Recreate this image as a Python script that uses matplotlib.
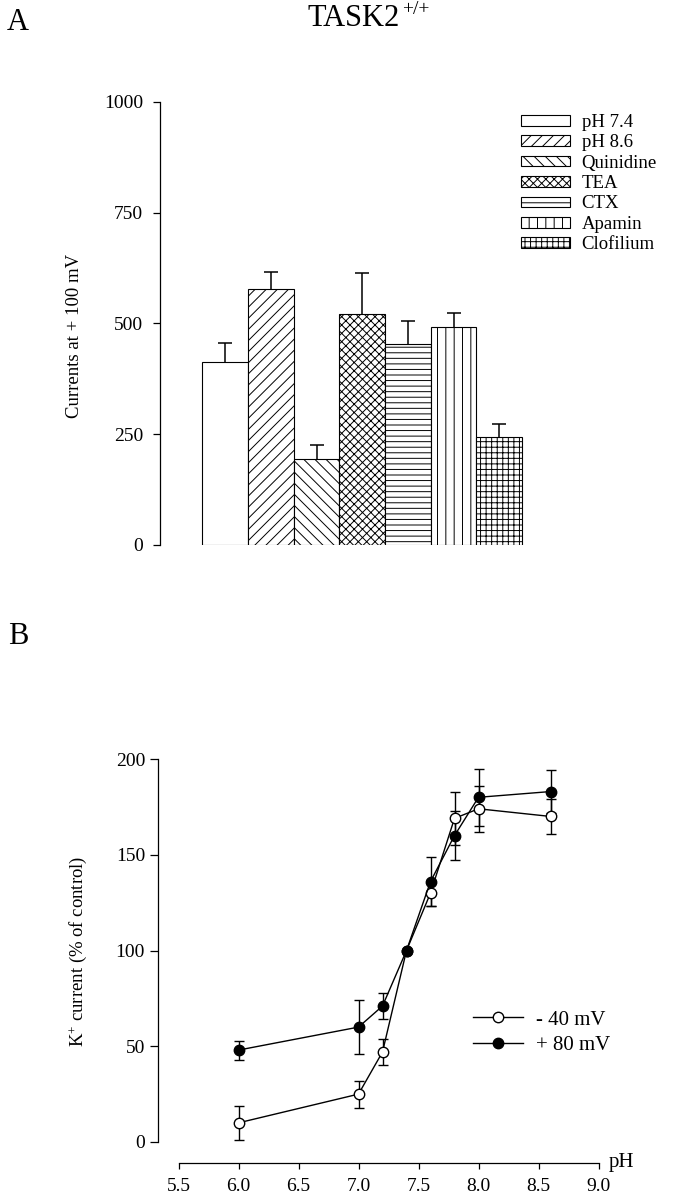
import matplotlib
matplotlib.use('Agg')
import matplotlib.pyplot as plt
import numpy as np

plt.rcParams['font.family'] = ['Liberation Serif', 'DejaVu Serif']
plt.rcParams['mathtext.fontset'] = 'custom'
plt.rcParams['mathtext.rm'] = 'Liberation Serif'
plt.rcParams['mathtext.default'] = 'regular'
plt.rcParams['hatch.linewidth'] = 0.7

# Panel A data: currents at +100 mV
conditions = ['pH 7.4', 'pH 8.6', 'Quinidine', 'TEA', 'CTX', 'Apamin', 'Clofilium']
currents = [414, 578, 195, 521, 453, 491, 244]
current_err = [42, 38, 31, 94, 53, 32, 29]
a_yticks = [0, 250, 500, 750, 1000]

# Panel B data: K+ current vs pH
ph = [6.0, 7.0, 7.2, 7.4, 7.6, 7.8, 8.0, 8.6]
neg40 = [10, 25, 47, 100, 130, 169, 174, 170]
neg40_err = [9, 7, 7, 0, 7, 14, 12, 9]
pos80 = [48, 60, 71, 100, 136, 160, 180, 183]
pos80_err = [5, 14, 7, 0, 13, 13, 15, 11]
b_xticks = [5.5, 6.0, 6.5, 7.0, 7.5, 8.0, 8.5, 9.0]
b_yticks = [0, 50, 100, 150, 200]

hatches = ['', '///', '\\\\\\', 'xxxx', '---', '||', '+++']

W, H = 674, 1200
fig = plt.figure(figsize=(W / 100, H / 100), dpi=100)

# ---- Panel A ----
axA = fig.add_axes([160 / W, 1 - 545 / H, 510 / W, 443 / H])
x = np.arange(len(conditions))
for i in range(len(conditions)):
    axA.bar(x[i], currents[i], width=1.0, color='white', edgecolor='black',
            linewidth=0.8, hatch=hatches[i], label=conditions[i])
eb = axA.errorbar(x, currents, yerr=[np.zeros(len(currents)), current_err], fmt='none',
                  ecolor='black', elinewidth=1.1, capsize=5, capthick=1.1)
eb[1][0].set_visible(False)  # no cap on the lower side
axA.set_xlim(-1.425, 9.735)
axA.set_ylim(0, 1000)
axA.set_yticks(a_yticks)
axA.set_xticks([])
for s in ['top', 'right', 'bottom']:
    axA.spines[s].set_visible(False)
axA.spines['left'].set_linewidth(0.9)
axA.tick_params(axis='y', length=5, width=0.9, pad=7, labelsize=14)
axA.set_ylabel('Currents at + 100 mV', fontsize=13.5)
axA.yaxis.set_label_coords(83 / W, 1 - 336 / H, transform=fig.transFigure)
axA.legend(loc='upper left', bbox_to_anchor=(521 / W, 1 - 114 / H),
           bbox_transform=fig.transFigure, frameon=False, fontsize=13.5,
           borderpad=0, borderaxespad=0, handlelength=2.61, handleheight=0.5,
           handletextpad=0.62, labelspacing=0.18)

# ---- Panel B ----
axB = fig.add_axes([178.5 / W, 1 - 1142 / H, 420 / W, 383 / H])
axB.errorbar(ph, neg40, yerr=neg40_err, fmt='none', ecolor='black',
             elinewidth=1.0, capsize=3.6, capthick=1.0, zorder=2)
axB.errorbar(ph, pos80, yerr=pos80_err, fmt='none', ecolor='black',
             elinewidth=1.0, capsize=3.6, capthick=1.0, zorder=2)
axB.plot(ph, neg40, '-o', color='black', markerfacecolor='white',
         markeredgecolor='black', markersize=7.5, linewidth=1.0,
         markeredgewidth=1.0, label='- 40 mV', zorder=3)
axB.plot(ph, pos80, '-o', color='black', markerfacecolor='black',
         markeredgecolor='black', markersize=7.5, linewidth=1.0,
         label='+ 80 mV', zorder=4)
axB.set_xlim(5.5, 9.0)
axB.set_ylim(0, 200)
axB.set_xticks(b_xticks)
axB.set_xticklabels([f'{t:.1f}' for t in b_xticks])
axB.set_yticks(b_yticks)
for s in ['top', 'right']:
    axB.spines[s].set_visible(False)
axB.spines['left'].set_position(('outward', 14.5))
axB.spines['bottom'].set_position(('outward', 15.1))
axB.spines['left'].set_linewidth(0.9)
axB.spines['bottom'].set_linewidth(0.9)
axB.tick_params(axis='y', length=6, width=0.9, pad=3.6, labelsize=14)
axB.tick_params(axis='x', length=4, width=0.9, pad=7, labelsize=14)
axB.set_ylabel('K$^{+}$ current (% of control)', fontsize=13.5)
axB.yaxis.set_label_coords(89 / W, 1 - 951 / H, transform=fig.transFigure)
axB.legend(loc='upper left', bbox_to_anchor=(473 / W, 1 - 1010 / H),
           bbox_transform=fig.transFigure, frameon=False, fontsize=15,
           borderpad=0, borderaxespad=0, handlelength=2.4,
           handletextpad=0.62, labelspacing=0.27)
fig.text(609 / W, 1 - 1163 / H, 'pH', fontsize=15, ha='left', va='center')

# ---- labels ----
fig.text(7 / W, 1 - 22.5 / H, 'A', fontsize=22, ha='left', va='center')
fig.text(8 / W, 1 - 636 / H, 'B', fontsize=22, ha='left', va='center')
fig.text(308 / W, 1 - 26 / H, 'TASK2', fontsize=22, ha='left', va='baseline')
fig.text(402 / W, 1 - 14 / H, '+/+', fontsize=14, ha='left', va='baseline')

fig.savefig('out.png', dpi=100)
